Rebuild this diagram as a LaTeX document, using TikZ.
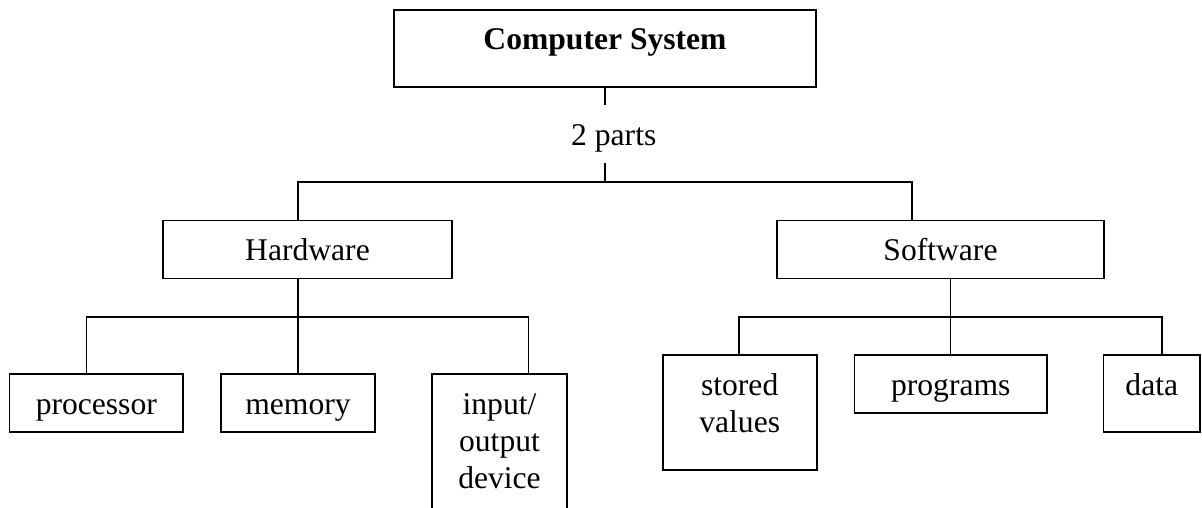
\documentclass[tikz,border=0pt]{standalone}
\usepackage{fontspec}
\setmainfont{Liberation Serif}
\newcommand\mystack[1]{\begin{tabular}[t]{@{}c@{}}#1\end{tabular}}
\begin{document}
\begin{tikzpicture}[x=1pt,y=-1pt,
  box/.style={draw=black,line width=1.8pt,inner sep=0pt,outer sep=0pt,rectangle},
  lbl/.style={inner sep=0pt,anchor=base,font=\fontsize{31.6}{37}\selectfont},
  wire/.style={draw=black,line width=1.8pt}]
\useasboundingbox (0,0) rectangle (1202,508);
\clip (0,0) rectangle (1202,508);
% boxes
\node[box,minimum width=422pt,minimum height=77pt] (cs) at (605,48.5) {};
\node[box,minimum width=289pt,minimum height=58pt] (hw) at (307.5,249.5) {};
\node[box,minimum width=327pt,minimum height=58pt] (sw) at (940.5,249.5) {};
\node[box,minimum width=173.5pt,minimum height=58pt] (proc) at (96.3,403) {};
\node[box,minimum width=154pt,minimum height=58pt] (mem) at (298,403) {};
\node[box,minimum width=135pt,minimum height=180pt] (io) at (499.5,464) {};
\node[box,minimum width=154pt,minimum height=115pt] (sv) at (739.7,412.5) {};
\node[box,minimum width=192.5pt,minimum height=58pt] (prog) at (950.75,384) {};
\node[box,minimum width=96.5pt,minimum height=77pt] (data) at (1151.8,393.5) {};
% labels
\node[lbl,font=\fontsize{31.6}{37}\selectfont\bfseries] (tcs) at (605,50) {Computer System};
\node[lbl,anchor=base west] (parts) at (571,146) {2 parts};
\node[lbl] (thw) at (307.5,260.7) {Hardware};
\node[lbl] (tsw) at (940.5,260.7) {Software};
\node[lbl] (tproc) at (96.3,414) {processor};
\node[lbl] (tmem) at (298,414) {memory};
\node[lbl] (tio) at (499.5,414) {\mystack{input/\\output\\device}};
\node[lbl] (tsv) at (739.7,395) {\mystack{stored\\values}};
\node[lbl] (tprog) at (950.75,395) {programs};
\node[lbl] (tdata) at (1151.8,395) {data};
% connector points
\coordinate (a1) at (605,105);
\coordinate (a2) at (605,163);
\coordinate (b0) at (605,182);
\coordinate (bl) at (298,182);
\coordinate (br) at (912,182);
\coordinate (hj) at (298,317);
\coordinate (hl) at (86.5,317);
\coordinate (hr) at (528.5,317);
\coordinate (sj) at (950.5,317);
\coordinate (sl) at (739.3,317);
\coordinate (sr) at (1161.6,317);
% connectors
\draw[wire] (cs.south) -- (a1);
\draw[wire] (a2) -- (b0);
\draw[wire] (hw.north -| bl) -- (bl) -- (br) -- (sw.north -| br);
\draw[wire] (hw.south -| hj) -- (hj);
\draw[wire] (proc.north -| hl) -- (hl) -- (hr) -- (io.north -| hr);
\draw[wire] (hj) -- (mem.north);
\draw[wire] (sw.south -| sj) -- (sj);
\draw[wire] (sv.north -| sl) -- (sl) -- (sr) -- (data.north -| sr);
\draw[wire] (sj) -- (prog.north -| sj);
\end{tikzpicture}
\end{document}
